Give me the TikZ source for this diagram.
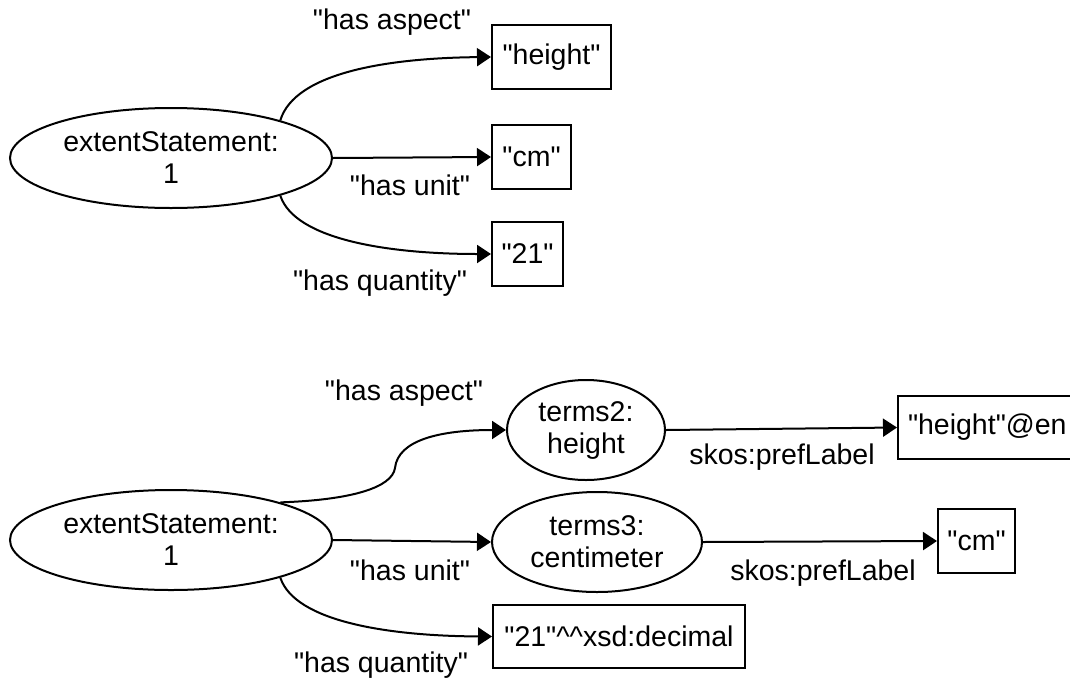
\documentclass[tikz,border=0pt]{standalone}
\usepackage{fontspec}
\setmainfont{Liberation Sans}[Ligatures=TeXOff]
\usetikzlibrary{shapes.geometric,arrows.meta}
\begin{document}
\begin{tikzpicture}[x=1pt,y=1pt,
  every node/.style={font=\fontsize{28.5}{32}\selectfont, inner sep=0pt},
  ell/.style={draw, line width=2pt, ellipse, align=center, minimum height=100pt},
  lit/.style={draw, line width=2pt, rectangle, align=center, minimum height=64pt},
  rel/.style={line width=2pt, -{Triangle[length=14pt,width=18pt]}}]
\useasboundingbox (0,0) rectangle (1070,-683);
\clip (0,0) rectangle (1070,-683);

% ---------- top diagram ----------
\node[ell, minimum width=322pt] (e1) at (171,-158) {extentStatement:\\1};
\node[lit, minimum width=119pt] (h1) at (551.5,-57) {"height"};
\node[lit, minimum width=79pt] (c1) at (531.5,-157) {"cm"};
\node[lit, minimum width=71pt] (q1) at (527.5,-254) {"21"};

\draw[rel] (e1.19) .. controls (295,-72) and (390,-58) .. (h1.west);
\draw[rel] (e1.east) -- (c1.west);
\draw[rel] (e1.-19) .. controls (295,-240) and (390,-254) .. (q1.west);

\node (la1) at (392,-22) {"has aspect"};
\node (lu1) at (410,-185) {"has unit"};
\node (lq1) at (380,-283) {"has quantity"};

% ---------- bottom diagram ----------
\node[ell, minimum width=322pt] (e2) at (171,-540) {extentStatement:\\1};
\node[ell, minimum width=158pt] (t2) at (586,-430) {terms2:\\height};
\node[ell, minimum width=210pt] (t3) at (597,-542) {terms3:\\centimeter};
\node[lit, minimum width=252pt, minimum height=63pt] (d2) at (619,-636.5) {"21"\textasciicircum\textasciicircum xsd:decimal};
\node[lit, anchor=west, minimum height=63pt, text width=175pt, align=left, inner xsep=10pt] (hen) at (897,-427.5) {"height"@en};
\node[lit, minimum width=77pt] (c2) at (976.5,-541) {"cm"};

\draw[rel] (e2.19) .. controls (350,-500) and (392,-488) .. (395,-468)
  .. controls (398,-440) and (440,-430) .. (t2.west);
\draw[rel] (e2.east) -- (t3.west);
\draw[rel] (e2.-19) .. controls (295,-622) and (390,-636) .. (d2.west);
\draw[rel] (t2.east) -- (hen.west);
\draw[rel] (t3.east) -- (c2.west);

\node (la2) at (404,-393) {"has aspect"};
\node (lu2) at (410,-570) {"has unit"};
\node (lq2) at (381,-665) {"has quantity"};
\node (sp1) at (782,-457) {skos:prefLabel};
\node (sp2) at (823,-573) {skos:prefLabel};
\end{tikzpicture}
\end{document}
